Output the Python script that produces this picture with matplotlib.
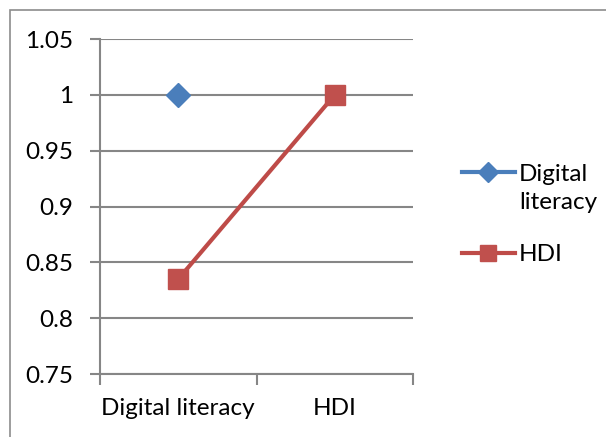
import numpy as np
import matplotlib.pyplot as plt
from matplotlib.patches import Rectangle
from matplotlib.ticker import FixedLocator

categories = ['Digital literacy', 'HDI']
digital_literacy = [1.0, np.nan]
hdi = [0.835, 1.0]
y_ticks = [0.75, 0.8, 0.85, 0.9, 0.95, 1.0, 1.05]
y_labels = ['0.75', '0.8', '0.85', '0.9', '0.95', '1', '1.05']

plt.rcParams['font.family'] = ['Lato', 'DejaVu Sans']

fig = plt.figure(figsize=(6.06, 4.37), dpi=100)
W, H = 606, 437
ax = fig.add_axes([100 / W, 1 - 374 / H, 313 / W, 335 / H])

grid_col = '#868686'
x = np.arange(len(categories))
fs = 17.5

ax.plot(x, digital_literacy, color='#4A7EBB', lw=3, marker='D', ms=12,
        label='Digital', zorder=3)
ax.plot(x, hdi, color='#BE4B48', lw=3, marker='s', ms=14,
        mfc='#C0504D', mec='#C0504D', label='HDI', zorder=3)

ax.set_xlim(-0.5, 1.5)
ax.set_ylim(0.75, 1.05)
ax.set_yticks(y_ticks)
ax.set_yticklabels(y_labels, fontsize=fs)
ax.set_xticks(x)
ax.set_xticklabels(categories, fontsize=fs)
ax.tick_params(axis='x', length=0, pad=17)
ax.xaxis.set_minor_locator(FixedLocator([-0.5, 0.5, 1.5]))
ax.tick_params(axis='x', which='minor', length=8, width=1.5, color=grid_col)
ax.tick_params(axis='y', length=7, width=1.5, color=grid_col, pad=12)

ax.grid(axis='y', color=grid_col, lw=1.5)
ax.set_axisbelow(True)
for side in ['top', 'right']:
    ax.spines[side].set_visible(False)
for side in ['left', 'bottom']:
    ax.spines[side].set_color(grid_col)
    ax.spines[side].set_linewidth(1.5)

# legend rows for "Digital" and "HDI"; the wrapped "literacy" goes under the first label
leg = ax.legend(loc='upper left', bbox_to_anchor=(452 / W, 1 - 154 / H),
                bbox_transform=fig.transFigure, frameon=False, fontsize=fs,
                handlelength=2.2, handletextpad=0.15, labelspacing=2.45,
                borderaxespad=0, markerscale=0.85)
fig.canvas.draw()
bb = leg.get_texts()[0].get_window_extent().transformed(fig.transFigure.inverted())
fig.text(bb.x0, bb.y0 - 28 / H, 'literacy', fontsize=fs, ha='left', va='bottom')

# chart-area border
fig.patches.append(Rectangle((10 / W, -0.1), 1.2, 1 - 10 / H + 0.1,
                             transform=fig.transFigure, fill=False,
                             ec='#8c8c8c', lw=1.2))

fig.savefig('out.png', dpi=100)
